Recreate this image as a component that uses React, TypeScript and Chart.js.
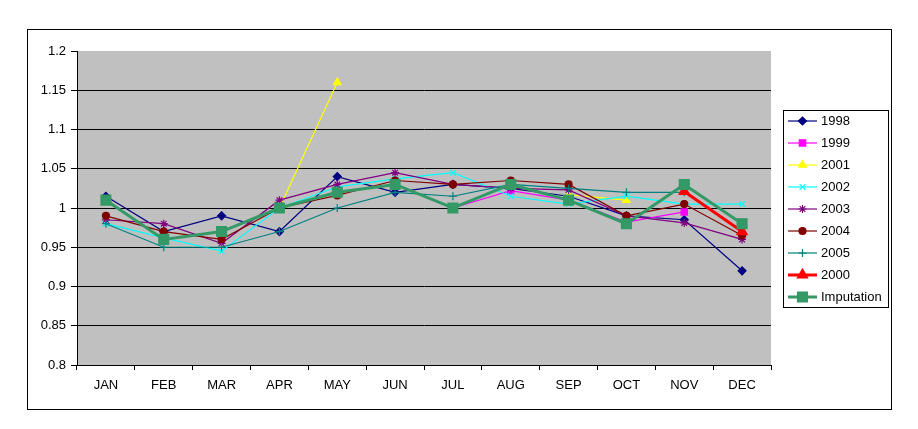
import { useEffect, useRef } from 'react';
import { Chart, registerables } from 'chart.js';
import { drawPoint } from 'chart.js/helpers';

Chart.register(...registerables);

const MONTHS = ['JAN', 'FEB', 'MAR', 'APR', 'MAY', 'JUN', 'JUL', 'AUG', 'SEP', 'OCT', 'NOV', 'DEC'];
const Y_TICKS = [0.8, 0.85, 0.9, 0.95, 1, 1.05, 1.1, 1.15, 1.2];

const Y1998 = [1.015, 0.97, 0.99, 0.97, 1.04, 1.02, 1.03, 1.025, 1.015, 0.99, 0.985, 0.92];
const Y1999 = [null, null, null, null, null, null, 1.0, 1.022, 1.01, 0.982, 0.995, null];
const Y2001 = [null, null, null, 1.0, 1.16, null, null, null, 1.017, 1.01, null, null];
const Y2002 = [0.98, 0.962, 0.945, 1.0, 1.027, 1.037, 1.045, 1.015, 1.005, 1.015, 1.005, 1.005];
const Y2003 = [0.985, 0.98, 0.955, 1.01, 1.03, 1.045, 1.03, 1.025, 1.023, 0.99, 0.981, 0.96];
const Y2004 = [0.99, 0.97, 0.96, 1.0, 1.016, 1.035, 1.03, 1.035, 1.03, 0.99, 1.005, 0.965];
const Y2005 = [0.98, 0.95, 0.95, 0.97, 1.0, 1.02, 1.015, 1.03, 1.025, 1.02, 1.02, null];
const Y2000 = [null, null, null, null, null, null, null, null, null, null, 1.021, 0.97];
const IMPUTATION = [1.01, 0.96, 0.97, 1.0, 1.02, 1.03, 1.0, 1.03, 1.01, 0.98, 1.03, 0.98];

const FONT = '"Liberation Sans", Arial, sans-serif';

type Serie = {
  label: string;
  data: (number | null)[];
  color: string;
  style: string;
  radius: number;
  width: number;
};

const SERIES: Serie[] = [
  { label: '1998', data: Y1998, color: '#000080', style: 'rectRot', radius: 4, width: 1.2 },
  { label: '1999', data: Y1999, color: '#ff00ff', style: 'rect', radius: 4.5, width: 1.2 },
  { label: '2001', data: Y2001, color: '#ffff00', style: 'triangle', radius: 4.5, width: 1.2 },
  { label: '2002', data: Y2002, color: '#00ffff', style: 'crossRot', radius: 4, width: 1.2 },
  { label: '2003', data: Y2003, color: '#800080', style: 'star', radius: 4, width: 1.2 },
  { label: '2004', data: Y2004, color: '#800000', style: 'circle', radius: 3.5, width: 1.2 },
  { label: '2005', data: Y2005, color: '#008080', style: 'cross', radius: 4, width: 1.2 },
  { label: '2000', data: Y2000, color: '#ff0000', style: 'triangle', radius: 6, width: 3 },
  { label: 'Imputation', data: IMPUTATION, color: '#339966', style: 'rect', radius: 7, width: 3 },
];

// grey plot area, outer frame and the excel style legend box
const decor = {
  id: 'decor',
  beforeDraw(chart: any) {
    const { ctx, chartArea } = chart;
    ctx.save();
    ctx.fillStyle = '#ffffff';
    ctx.fillRect(0, 0, chart.width, chart.height);
    ctx.strokeStyle = '#000000';
    ctx.lineWidth = 1;
    ctx.strokeRect(27.5, 29.5, 864, 380);
    ctx.fillStyle = '#c0c0c0';
    ctx.fillRect(chartArea.left, chartArea.top, chartArea.right - chartArea.left, chartArea.bottom - chartArea.top);
    ctx.restore();
  },
  afterDraw(chart: any) {
    const { ctx } = chart;
    ctx.save();
    ctx.strokeStyle = '#000000';
    ctx.lineWidth = 1;
    ctx.fillStyle = '#ffffff';
    ctx.fillRect(783.5, 110.5, 105, 197);
    ctx.strokeRect(783.5, 110.5, 105, 197);
    ctx.font = `13px ${FONT}`;
    ctx.textBaseline = 'middle';
    SERIES.forEach((s, i) => {
      const y = 121 + i * 22;
      ctx.strokeStyle = s.color;
      ctx.lineWidth = s.width;
      ctx.beginPath();
      ctx.moveTo(788, y);
      ctx.lineTo(817, y);
      ctx.stroke();
      ctx.fillStyle = s.color;
      ctx.lineWidth = 1.2;
      drawPoint(ctx, { pointStyle: s.style, radius: s.radius, rotation: 0, borderWidth: 1.2 }, 802.5, y);
      ctx.fillStyle = '#000000';
      ctx.fillText(s.label, 821, y + 0.5);
    });
    ctx.restore();
  },
};

export default function App() {
  const canvasRef = useRef<HTMLCanvasElement>(null);

  useEffect(() => {
    if (!canvasRef.current) return;
    const chart = new Chart(canvasRef.current, {
      type: 'line',
      data: {
        labels: MONTHS,
        datasets: SERIES.map((s, i) => ({
          label: s.label,
          data: s.data,
          borderColor: s.color,
          backgroundColor: s.color,
          pointBorderColor: s.color,
          pointBackgroundColor: s.color,
          borderWidth: s.width,
          pointStyle: s.style as any,
          pointRadius: s.radius,
          pointBorderWidth: 1.2,
          tension: 0,
          spanGaps: false,
          order: SERIES.length - 1 - i,
        })),
      },
      options: {
        animation: false,
        responsive: false,
        devicePixelRatio: 1,
        layout: { padding: { top: 51, left: 0, right: 147, bottom: 0 } },
        plugins: {
          legend: { display: false },
          tooltip: { enabled: false },
        },
        scales: {
          x: {
            offset: true,
            grid: {
              offset: true,
              drawOnChartArea: false,
              drawTicks: true,
              tickLength: 5,
              tickColor: '#000000',
            },
            border: { display: true, color: '#000000', width: 1 },
            ticks: {
              color: '#000000',
              padding: 8,
              font: { family: FONT, size: 13 },
              maxRotation: 0,
              autoSkip: false,
            },
            afterFit: (scale: any) => {
              scale.height = 64;
            },
          },
          y: {
            min: 0.8,
            max: 1.2,
            afterBuildTicks: (scale: any) => {
              scale.ticks = Y_TICKS.map((v) => ({ value: v }));
            },
            grid: {
              color: (c: any) => (c.tick && Math.abs(c.tick.value - 1.2) < 1e-6 ? 'rgba(0,0,0,0)' : '#000000'),
              tickColor: '#000000',
              tickLength: 6,
              lineWidth: 1,
            },
            border: { display: true, color: '#000000', width: 1 },
            ticks: {
              color: '#000000',
              padding: 5,
              font: { family: FONT, size: 13 },
              callback: (v: any) => String(Number(Number(v).toFixed(2))),
            },
            afterFit: (scale: any) => {
              scale.width = 77;
            },
          },
        },
      },
      plugins: [decor],
    });
    return () => chart.destroy();
  }, []);

  return (
    <div style={{ position: 'fixed', left: 0, top: 0, width: 918, height: 429 }}>
      <canvas ref={canvasRef} width={918} height={429} style={{ width: 918, height: 429 }} />
    </div>
  );
}
